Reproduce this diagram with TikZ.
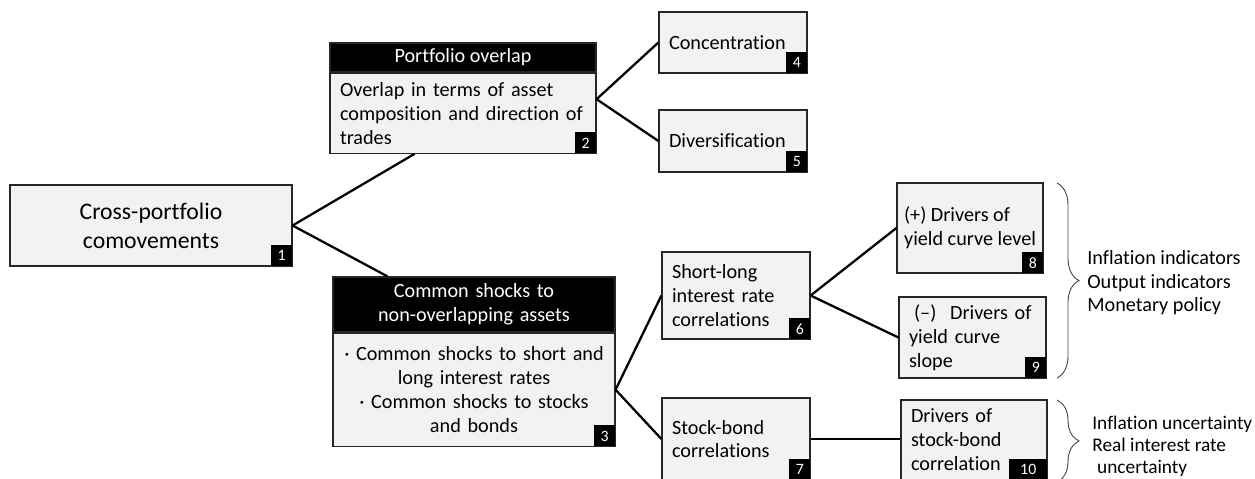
\documentclass[tikz,border=0pt]{standalone}
\usepackage{fontspec}
\setmainfont{Carlito}[Ligatures=NoCommon]
\usetikzlibrary{decorations.pathreplacing}
\definecolor{boxgray}{RGB}{242,242,242}
\tikzset{
    box/.style={draw=black!85, line width=0.7pt, fill=boxgray, inner xsep=0.2cm, inner ysep=0pt,
        font=\fontsize{11.5}{13.6}\selectfont},
    headbox/.style={box, fill=black, text=white, align=center},
    leftbox/.style={box, align=left},
    badge/.style={fill=black, text=white, anchor=south east, inner sep=0pt,
        minimum width=0.42cm, minimum height=0.42cm, font=\fontsize{9}{10}\selectfont},
    link/.style={line width=1.3pt},
    curly/.style={decorate, decoration={brace, amplitude=0.44cm}, line width=0.5pt, draw=black!75},
    sidetext/.style={anchor=west, align=left, inner sep=0pt, font=\fontsize{11.5}{13.4}\selectfont}
}
\begin{document}
\begin{tikzpicture}[x=0.02cm, y=-0.02cm]
        \useasboundingbox (0,0) rectangle (1255,478);

        \node (comove) [box, align=center, minimum width=5.64cm, minimum height=1.62cm,
            font=\fontsize{13.5}{16.4}\selectfont] at (151, 225.5){Cross-portfolio\\comovements};
            \node (n1) [badge] at (comove.south east){1};

        \node (overlaphead) [headbox, minimum width=5.32cm, minimum height=0.58cm] at (463, 57.5){Portfolio overlap};
        \node (overlap) [leftbox, anchor=north, text width=4.92cm, minimum width=5.32cm, minimum height=1.6cm]
            at (overlaphead.south){Overlap in terms of asset\\composition and direction of\\trades};
            \node (n2) [badge] at (overlap.south east){2};

        \node (shockshead) [headbox, text width=5.24cm, minimum width=5.64cm, minimum height=1.1cm]
            at (474, 304.5){Common shocks to\\non-overlapping assets};
        \node (shocks) [box, align=center, anchor=north, text width=5.24cm, minimum width=5.64cm, minimum height=2.26cm]
            at (shockshead.south){· Common shocks to short and\\long interest rates\\· Common shocks to stocks\\and bonds};
            \node (n3) [badge] at (shocks.south east){3};

        \node (conc) [leftbox, text width=2.56cm, minimum width=2.96cm, minimum height=1.22cm] at (733, 42.5){Concentration};
            \node (n4) [badge] at (conc.south east){4};
        \node (divers) [leftbox, text width=2.56cm, minimum width=2.96cm, minimum height=1.24cm] at (733, 141){Diversification};
            \node (n5) [badge] at (divers.south east){5};

        \node (shortlong) [leftbox, text width=2.56cm, minimum width=2.96cm, minimum height=1.74cm]
            at (736, 295.5){Short-long\\interest rate\\correlations};
            \node (n6) [badge] at (shortlong.south east){6};
        \node (stockbond) [leftbox, text width=2.56cm, minimum width=2.96cm, minimum height=1.64cm]
            at (736, 439){Stock-bond\\correlations};
            \node (n7) [badge] at (stockbond.south east){7};

        \node (level) [leftbox, inner xsep=0.1cm, minimum width=2.92cm, minimum height=1.8cm]
            at (970, 228){(+) Drivers of\\yield curve level};
            \node (n8) [badge] at (level.south east){8};
        \node (slope) [leftbox, inner xsep=0.2cm, text width=2.54cm, minimum width=2.94cm, minimum height=1.62cm]
            at (972.5, 337.5){\hspace*{0.25em}(–)\hspace{0.35em} Drivers of\\yield curve\\slope};
            \node (n9) [badge] at (slope.south east){9};
        \node (sbdrivers) [leftbox, inner xsep=0.2cm, text width=2.52cm, minimum width=2.92cm, minimum height=1.6cm]
            at (974, 440){Drivers of\\stock-bond\\correlation};
            \node (n10) [badge, minimum width=0.76cm] at (sbdrivers.south east){10};

        \draw[link] (comove.east) to (overlap.220);
        \draw[link] (comove.east) to (shockshead.162);
        \draw[link] (overlap.6) to (conc.west);
        \draw[link] (overlap.6) to (divers.west);
        \draw[link] (shocks.east) to (shortlong.west);
        \draw[link] (shocks.east) to (stockbond.west);
        \draw[link] (shortlong.east) to (level.west);
        \draw[link] (shortlong.east) to (slope.west);
        \draw[link] (stockbond.east) to (stockbond.east -| sbdrivers.west);

        \draw[curly] (1057, 183) -- (1057, 378);
        \draw[curly] (1057, 400) -- (1057, 482);

        \node (macro) [sidetext] at (1087, 283){Inflation indicators\\Output indicators\\Monetary policy};
        \node (uncert) [sidetext, font=\fontsize{11}{12.6}\selectfont] at (1092, 446){Inflation uncertainty\\Real interest rate\\\hspace*{0.25em}uncertainty};
\end{tikzpicture}
\end{document}
